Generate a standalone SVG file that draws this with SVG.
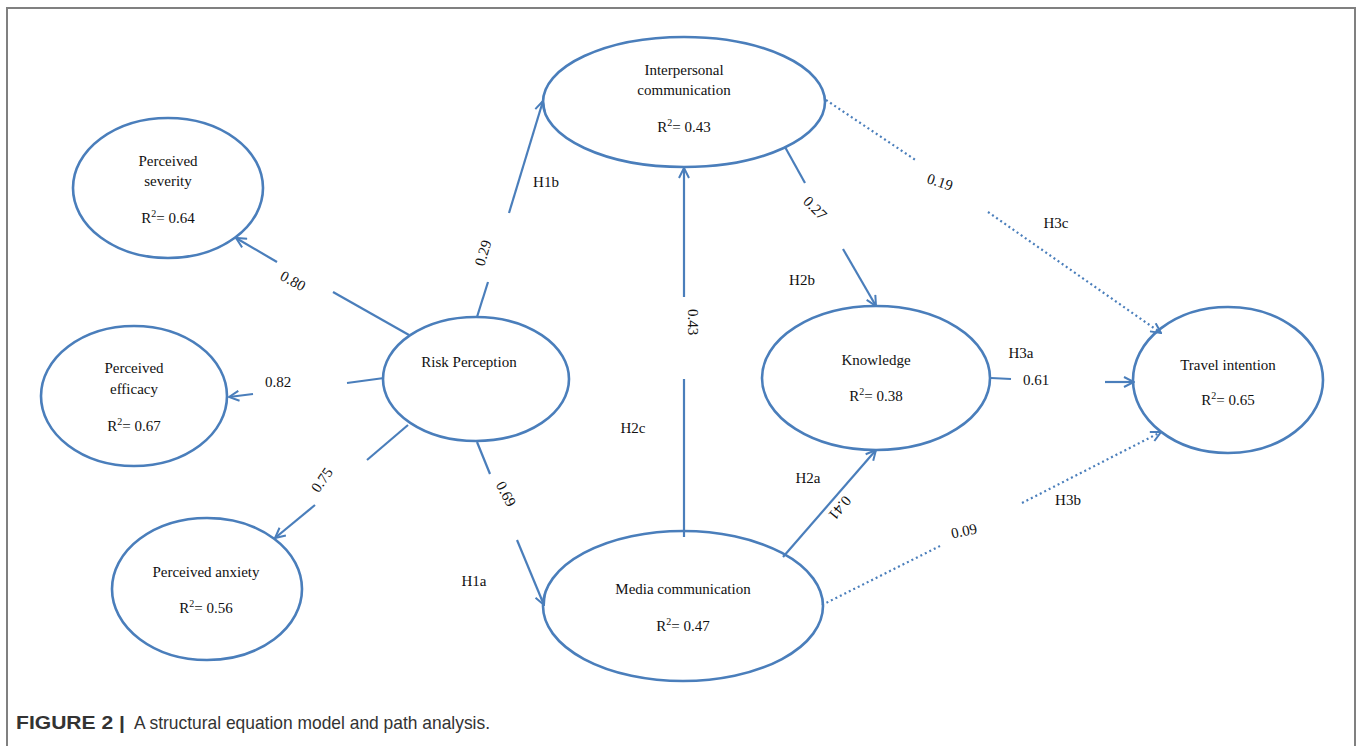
<svg xmlns="http://www.w3.org/2000/svg" width="1360" height="746" viewBox="0 0 1360 746">
<style>
.n{fill:none;stroke:#4a7ebb;stroke-width:2.6}
.c{fill:none;stroke:#4a7ebb;stroke-width:2.2}
.d{fill:none;stroke:#4a7ebb;stroke-width:2.2;stroke-dasharray:2 3}
.t{font-family:"Liberation Serif","Times New Roman",serif;font-size:15px;fill:#111;text-anchor:middle}
.cap{font-family:"Liberation Sans Narrow","Liberation Sans",Arial,sans-serif;font-size:19px;fill:#333}
</style>
<defs>
<marker id="ah" viewBox="0 0 12 12" refX="11" refY="6" markerWidth="12" markerHeight="12" markerUnits="userSpaceOnUse" orient="auto">
<path d="M1,1 L11,6 L1,11" fill="none" stroke="#4a7ebb" stroke-width="2"/>
</marker>
</defs>
<rect width="1360" height="746" fill="#fff"/>
<path d="M7,746 V8 H1355 V746" fill="none" stroke="#808080" stroke-width="2"/>

<g id="connectors">
<line class="c" x1="409" y1="335" x2="333" y2="292"/>
<line class="c" x1="277" y1="262" x2="236" y2="238" marker-end="url(#ah)"/>
<text class="t" transform="translate(293,281) rotate(29)" dy="5">0.80</text>
<line class="c" x1="384" y1="378" x2="347" y2="383"/>
<line class="c" x1="253" y1="394" x2="229" y2="397" marker-end="url(#ah)"/>
<text class="t" x="278" y="387">0.82</text>
<line class="c" x1="408" y1="425" x2="367" y2="460"/>
<line class="c" x1="315" y1="505" x2="275" y2="538" marker-end="url(#ah)"/>
<text class="t" transform="translate(322,480) rotate(-55)" dy="5">0.75</text>
<line class="c" x1="477" y1="317" x2="488" y2="282"/>
<line class="c" x1="509" y1="213" x2="543" y2="101" marker-end="url(#ah)"/>
<text class="t" transform="translate(483,253) rotate(-73)" dy="5">0.29</text>
<text class="t" x="546" y="187">H1b</text>
<line class="c" x1="477" y1="442" x2="490" y2="474"/>
<line class="c" x1="517" y1="540" x2="544" y2="605" marker-end="url(#ah)"/>
<text class="t" transform="translate(506,494) rotate(62)" dy="5">0.69</text>
<text class="t" x="474" y="586">H1a</text>
<line class="c" x1="684" y1="537" x2="684" y2="379"/>
<line class="c" x1="684" y1="297" x2="684" y2="168" marker-end="url(#ah)"/>
<text class="t" transform="translate(693,322) rotate(90)" dy="5">0.43</text>
<text class="t" x="633" y="433">H2c</text>
<line class="c" x1="785" y1="147" x2="805" y2="183"/>
<line class="c" x1="843" y1="249" x2="876" y2="306" marker-end="url(#ah)"/>
<text class="t" transform="translate(815,208) rotate(45)" dy="5">0.27</text>
<text class="t" x="802" y="285">H2b</text>
<line class="c" x1="783" y1="557" x2="876" y2="450" marker-end="url(#ah)"/>
<text class="t" transform="translate(840,508) rotate(130)" dy="5">0.41</text>
<text class="t" x="808" y="483">H2a</text>
<line class="c" x1="991" y1="378" x2="1011" y2="379"/>
<line class="c" x1="1105" y1="382" x2="1134" y2="382" marker-end="url(#ah)"/>
<text class="t" x="1036" y="385">0.61</text>
<text class="t" x="1021" y="358">H3a</text>
<line class="d" x1="826" y1="100" x2="917" y2="161"/>
<line class="d" x1="988" y1="212" x2="1161" y2="333" marker-end="url(#ah)"/>
<text class="t" transform="translate(940,182) rotate(18)" dy="5">0.19</text>
<text class="t" x="1056" y="228">H3c</text>
<line class="d" x1="822" y1="605" x2="940" y2="546"/>
<line class="d" x1="1022" y1="503" x2="1161" y2="432" marker-end="url(#ah)"/>
<text class="t" transform="translate(964,531) rotate(-12)" dy="5">0.09</text>
<text class="t" x="1068" y="505">H3b</text>
</g>

<g id="severity">
<ellipse class="n" cx="168" cy="188" rx="95" ry="70"/>
<text class="t" x="168" y="166">Perceived</text>
<text class="t" x="168" y="186">severity</text>
<text class="t" x="168" y="223">R<tspan dy="-6" font-size="10">2</tspan><tspan dy="6">= 0.64</tspan></text>
</g>
<g id="efficacy">
<ellipse class="n" cx="134" cy="396" rx="93" ry="70"/>
<text class="t" x="134" y="373">Perceived</text>
<text class="t" x="134" y="394">efficacy</text>
<text class="t" x="134" y="431">R<tspan dy="-6" font-size="10">2</tspan><tspan dy="6">= 0.67</tspan></text>
</g>
<g id="anxiety">
<ellipse class="n" cx="207" cy="589" rx="95" ry="71"/>
<text class="t" x="206" y="577">Perceived anxiety</text>
<text class="t" x="206" y="613">R<tspan dy="-6" font-size="10">2</tspan><tspan dy="6">= 0.56</tspan></text>
</g>
<g id="risk">
<ellipse class="n" cx="476" cy="379" rx="93" ry="62"/>
<text class="t" x="469" y="367">Risk Perception</text>
</g>
<g id="interpersonal">
<ellipse class="n" cx="684" cy="102" rx="141" ry="65"/>
<text class="t" x="684" y="75">Interpersonal</text>
<text class="t" x="684" y="95">communication</text>
<text class="t" x="684" y="132">R<tspan dy="-6" font-size="10">2</tspan><tspan dy="6">= 0.43</tspan></text>
</g>
<g id="media">
<ellipse class="n" cx="683" cy="606" rx="140" ry="75"/>
<text class="t" x="683" y="594">Media communication</text>
<text class="t" x="683" y="631">R<tspan dy="-6" font-size="10">2</tspan><tspan dy="6">= 0.47</tspan></text>
</g>
<g id="knowledge">
<ellipse class="n" cx="876" cy="378" rx="114" ry="72"/>
<text class="t" x="876" y="365">Knowledge</text>
<text class="t" x="876" y="401">R<tspan dy="-6" font-size="10">2</tspan><tspan dy="6">= 0.38</tspan></text>
</g>
<g id="travel">
<ellipse class="n" cx="1228" cy="380" rx="95" ry="73"/>
<text class="t" x="1228" y="370">Travel intention</text>
<text class="t" x="1228" y="405">R<tspan dy="-6" font-size="10">2</tspan><tspan dy="6">= 0.65</tspan></text>
</g>

<text class="cap" x="16" y="729" font-weight="bold" textLength="109" lengthAdjust="spacingAndGlyphs">FIGURE 2 |</text>
<text class="cap" x="134" y="729" textLength="356" lengthAdjust="spacingAndGlyphs">A structural equation model and path analysis.</text>
</svg>
